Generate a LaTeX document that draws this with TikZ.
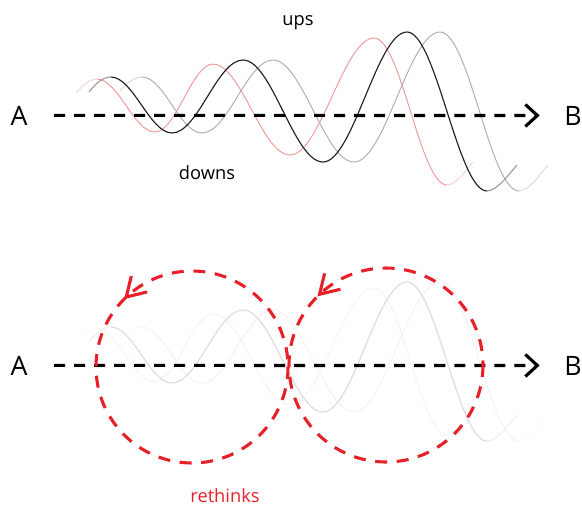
\documentclass[tikz,border=0pt]{standalone}
\usepackage{fontspec}
\setmainfont{Open Sans}
\usepackage{tikz}
\usetikzlibrary{arrows.meta}
\definecolor{waveblack}{HTML}{1E1E1E}
\definecolor{wavered}{HTML}{F29A9A}
\definecolor{wavegrey}{HTML}{B0B0B0}
\definecolor{loopred}{HTML}{E62129}

\tikzset{
  blackwave/.style={draw=waveblack!#1, line width=0.8pt},
  redwave/.style={draw=wavered!#1, line width=0.7pt},
  greywave/.style={draw=wavegrey!#1, line width=0.7pt},
  axisline/.style={line width=2.2pt, dash pattern=on 0.275cm off 0.225cm,
    -{Straight Barb[length=0.3cm, width=0.55cm]},
    shorten <=0.66cm, shorten >=0.61cm},
  endlabel/.style={font=\fontsize{19}{23}\selectfont, inner sep=0pt, anchor=base},
  tag/.style={font=\fontsize{13}{16}\selectfont, inner sep=0pt, anchor=base},
  loopline/.style={draw=loopred, line width=2.2pt, dash pattern=on 0.3cm off 0.24cm},
  looptip/.style={draw=loopred, line width=2.2pt, -{Straight Barb[length=0.46cm, width=0.56cm]}},
}

% three shifted waves: #1 colour strength, #2 strength of the faded ends
\newcommand{\wavetrio}[2]{%
  % red
  \draw[redwave=#2] (76,93) .. controls +(7,-8) and +(-7,0) .. (97,79);
  \draw[redwave=#1] (97,79) .. controls +(21,0) and +(-21,0) .. (155,132)
    .. controls +(21,0) and +(-21,0) .. (213,64)
    .. controls +(28,0) and +(-28,0) .. (290,155)
    .. controls +(30,0) and +(-30,0) .. (374,38)
    .. controls +(27,0) and +(-27,0) .. (447,185);
  \draw[redwave=#2] (447,185) .. controls +(9,0) and +(-6,7) .. (473,162);
  % grey
  \draw[greywave=#2] (120,91) .. controls +(7,-8) and +(-8,0) .. (142,77);
  \draw[greywave=#1] (142,77) .. controls +(22,0) and +(-22,0) .. (202,133)
    .. controls +(26,0) and +(-26,0) .. (273,60)
    .. controls +(29,0) and +(-29,0) .. (354,162)
    .. controls +(31,0) and +(-31,0) .. (440,32)
    .. controls +(29,0) and +(-29,0) .. (519,191);
  \draw[greywave=#2] (519,191) .. controls +(10,0) and +(-7,8) .. (548,165);
  % black
  \draw[blackwave=#2] (89,92) .. controls +(7,-9) and +(-8,0) .. (111,77);
  \draw[blackwave=#1] (111,77) .. controls +(22,0) and +(-22,0) .. (172,133)
    .. controls +(26,0) and +(-26,0) .. (243,60)
    .. controls +(29,0) and +(-29,0) .. (323,162)
    .. controls +(30,0) and +(-30,0) .. (407,32)
    .. controls +(29,0) and +(-29,0) .. (487,191);
  \draw[blackwave=#2] (487,191) .. controls +(10,0) and +(-7,8) .. (517,165);
}

\begin{document}
\begin{tikzpicture}[x=0.025cm, y=-0.025cm]
  \useasboundingbox (0,0) rectangle (582,508);

  % top: the path with its ups and downs
  \wavetrio{100}{45}
  \node[endlabel] (A1) at (19,125) {A};
  \node[endlabel] (B1) at (573,125) {B};
  \draw[axisline] (A1) -- (B1);
  \node[tag] (ups) at (298,25) {ups};
  \node[tag] (downs) at (207,179) {downs};

  % bottom: the same path, faded, with two loops
  \begin{scope}[shift={(0,250)}]
    \wavetrio{16}{7}
  \end{scope}
  \node[endlabel] (A2) at (19,375) {A};
  \node[endlabel] (B2) at (573,375) {B};
  \draw[axisline] (A2) -- (B2);

  \coordinate (loop1) at (192,367);
  \coordinate (loop2) at (386,365);
  \draw[loopline] (loop1) circle[radius=96];
  \draw[loopline] (loop2) circle[radius=97];
  \draw[looptip] (loop1) ++(229:96) arc[start angle=229, end angle=225, radius=96];
  \draw[looptip] (loop2) ++(229:97) arc[start angle=229, end angle=225, radius=97];
  \node[tag, text=loopred] (rethinks) at (225,502) {rethinks};
\end{tikzpicture}
\end{document}
